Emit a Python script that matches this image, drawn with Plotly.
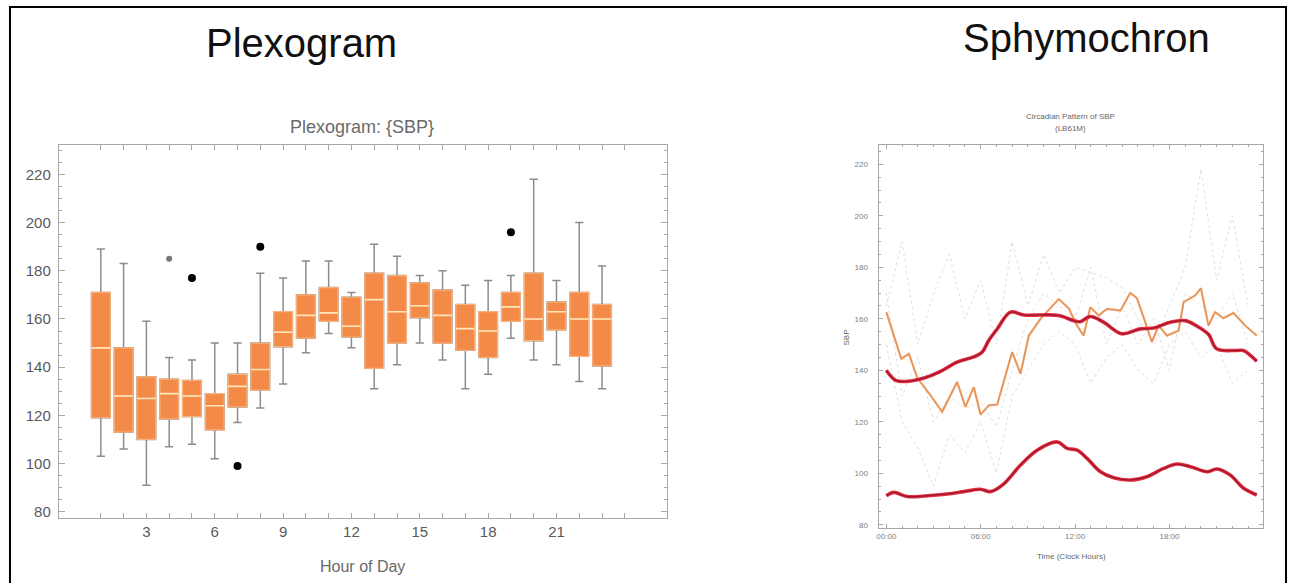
import plotly.graph_objects as go

# ---------------- Plexogram data (hourly SBP box statistics) ----------------
hours = list(range(1, 24))
upper_whisker = [189, 183, 159, 144, 143, 150, 150, 179, 177, 184, 184, 171, 191, 186, 178, 180, 174, 176, 178, 218, 176, 200, 182]
q3 = [171, 148, 136, 135, 134.5, 129, 137, 150, 163, 170, 173, 169, 179, 178, 175, 172, 166, 163, 171, 179, 167, 171, 166]
median = [148, 128, 127, 129, 128, 124, 132, 139, 154.5, 161.5, 162.5, 157, 168, 163, 165.5, 161.5, 156, 155, 165, 160, 163, 160, 160]
q1 = [119, 113, 110, 118.5, 119.5, 114, 123.5, 130.5, 148.5, 152, 159, 152.5, 139.5, 150, 160.5, 150, 147, 144, 159, 151, 155.5, 144.5, 140.5]
lower_whisker = [103, 106, 91, 107, 108, 102, 117, 123, 133, 146, 154, 148, 131, 141, 150, 143, 131, 137, 152, 143, 141, 134, 131]

outlier_hours = [5, 7, 8, 19]
outlier_values = [177, 99, 190, 196]
near_outlier_hours = [4]
near_outlier_values = [185]

x_tick_hours = list(range(1, 25))
x_tick_labels = [str(h) if (h % 3 == 0 and h <= 21) else "" for h in x_tick_hours]

# ---------------- Sphymochron data ----------------
upper_h = [0, 0.59, 1.33, 2.39, 3.45, 4.5, 5.56, 6.1, 6.5, 7.05, 7.89, 8.74, 9.8, 10.96, 11.91, 12.33, 12.97, 13.81, 14.97, 16.14, 16.99, 18.05, 19.0, 19.74, 20.48, 21.0, 22.28, 22.7, 23.55]
upper_v = [140, 136.1, 135.7, 137, 139.6, 143.2, 145.2, 147.1, 151.5, 156.1, 162.6, 161.5, 161.5, 161.3, 159.3, 158.9, 160.9, 158.7, 154.2, 156.1, 156.4, 158.7, 159.3, 157.2, 154, 148.4, 147.7, 147.7, 143.5]

lower_h = [0, 0.48, 1.33, 2.6, 3.87, 4.93, 5.99, 6.62, 7.47, 8.53, 9.59, 10.86, 11.49, 12.13, 12.76, 13.61, 14.45, 15.51, 16.57, 17.63, 18.48, 19.33, 20.39, 21.02, 21.87, 22.72, 23.55]
lower_v = [91.3, 92.6, 91, 91.3, 92, 92.9, 93.8, 92.9, 95.9, 103.2, 109, 112.2, 109.7, 109, 105.8, 100.6, 98.3, 97.4, 98.7, 101.9, 103.6, 102.6, 100.6, 101.7, 99.3, 94.2, 91.6]

mean_h = [0, 0.49, 0.95, 1.44, 1.97, 2.81, 3.55, 4.5, 5.03, 5.56, 5.99, 6.52, 7.05, 8.0, 8.53, 9.06, 9.8, 10.96, 11.6, 12.12, 12.54, 12.97, 13.5, 14.03, 14.88, 15.51, 15.93, 16.46, 16.88, 17.31, 17.84, 18.58, 18.9, 19.64, 20.0, 20.48, 20.9, 21.43, 22.07, 22.81, 23.55]
mean_v = [162.6, 153.5, 144.5, 146.4, 137, 130.3, 123.9, 135.5, 125.8, 133.5, 122.8, 126.4, 126.7, 147.1, 138.7, 153.5, 160, 167.7, 164, 157.4, 153.5, 164.5, 161.3, 163.9, 163.2, 170.1, 168, 158.7, 151, 157.4, 153.5, 155.4, 166.5, 169.1, 171.9, 157.4, 162.6, 160.2, 162.3, 157.4, 153.5]

day_h = list(range(0, 24))
day_a = [165, 190, 150, 170, 185, 160, 175, 150, 190, 165, 185, 170, 180, 178, 176, 172, 160, 150, 165, 180, 218, 175, 200, 165]
day_b = [150, 120, 110, 95, 115, 108, 120, 100, 130, 140, 150, 155, 150, 135, 145, 150, 140, 135, 150, 155, 145, 150, 135, 140]
day_c = [170, 130, 145, 120, 130, 125, 128, 118, 140, 160, 170, 165, 160, 180, 150, 165, 150, 160, 140, 170, 165, 160, 170, 150]

time_tick_vals = [0, 6, 12, 18]
time_tick_text = ["00:00", "06:00", "12:00", "18:00"]

FONT = "Liberation Sans, Arial, Helvetica, sans-serif"
BOX_FILL = "#F38A48"
BOX_EDGE = "#F9B27C"
WHISK = "#8C8C8C"
FRAME = "#A8A8A8"

fig = go.Figure()

# whiskers (gray) drawn from a box trace
fig.add_trace(go.Box(
    x=hours, q1=q1, median=median, q3=q3,
    lowerfence=lower_whisker, upperfence=upper_whisker,
    width=0.82, whiskerwidth=0.44, boxpoints=False,
    line=dict(color=WHISK, width=1.5), fillcolor=BOX_FILL,
    xaxis="x", yaxis="y", showlegend=False, hoverinfo="skip"))
# orange boxes on top
fig.add_trace(go.Box(
    x=hours, q1=q1, median=median, q3=q3,
    lowerfence=q1, upperfence=q3,
    width=0.82, whiskerwidth=0, boxpoints=False,
    line=dict(color=BOX_EDGE, width=1.2), fillcolor=BOX_FILL,
    xaxis="x", yaxis="y", showlegend=False, hoverinfo="skip"))
# pale median lines
fig.add_trace(go.Box(
    x=hours, q1=median, median=median, q3=median,
    lowerfence=median, upperfence=median,
    width=0.82, whiskerwidth=0, boxpoints=False,
    line=dict(color="#FFE6B8", width=1.6), fillcolor="rgba(0,0,0,0)",
    xaxis="x", yaxis="y", showlegend=False, hoverinfo="skip"))
fig.add_trace(go.Scatter(
    x=outlier_hours, y=outlier_values, mode="markers",
    marker=dict(color="black", size=8), xaxis="x", yaxis="y", showlegend=False))
fig.add_trace(go.Scatter(
    x=near_outlier_hours, y=near_outlier_values, mode="markers",
    marker=dict(color="#777777", size=6), xaxis="x", yaxis="y", showlegend=False))

# Sphymochron
for dv in (day_a, day_b, day_c):
    fig.add_trace(go.Scatter(x=day_h, y=dv, mode="lines",
                             line=dict(color="#DEDEDE", width=1, dash="dot"),
                             xaxis="x2", yaxis="y2", showlegend=False))
fig.add_trace(go.Scatter(x=mean_h, y=mean_v, mode="lines",
                         line=dict(color="#F2A46A", width=2.2),
                         xaxis="x2", yaxis="y2", showlegend=False))
fig.add_trace(go.Scatter(x=mean_h, y=mean_v, mode="lines",
                         line=dict(color="#D98A55", width=0.7),
                         xaxis="x2", yaxis="y2", showlegend=False))
for hh, vv in ((upper_h, upper_v), (lower_h, lower_v)):
    fig.add_trace(go.Scatter(x=hh, y=vv, mode="lines",
                             line=dict(color="#E3303F", width=3.6, shape="spline"),
                             xaxis="x2", yaxis="y2", showlegend=False))
    fig.add_trace(go.Scatter(x=hh, y=vv, mode="lines",
                             line=dict(color="#A0152F", width=1.3, shape="spline"),
                             xaxis="x2", yaxis="y2", showlegend=False))

W, H = 1290, 583
def px(x): return x / W
def py(y): return 1 - y / H

axis_common = dict(showline=True, linecolor=FRAME, linewidth=1.2, mirror="ticks",
                   ticks="inside", tickcolor=FRAME, showgrid=False, zeroline=False)

fig.update_layout(
    width=W, height=H, margin=dict(l=0, r=0, t=0, b=0),
    paper_bgcolor="white", plot_bgcolor="white", boxmode="overlay",
    font=dict(family=FONT),
    xaxis=dict(domain=[px(57), px(666)], range=[-0.84, 25.85], anchor="y",
               tickmode="array", tickvals=x_tick_hours, ticktext=x_tick_labels,
               ticklen=5, tickfont=dict(size=15, color="#5A5A5A"), **axis_common),
    yaxis=dict(domain=[py(520), py(145)], range=[77.3, 232.4], anchor="x",
               tickmode="linear", tick0=80, dtick=20, ticklen=6,
               tickfont=dict(size=15, color="#5A5A5A"), ticklabelstandoff=4,
               minor=dict(ticks="inside", dtick=5, tick0=80, ticklen=3, tickcolor=FRAME),
               **axis_common),
    xaxis2=dict(domain=[px(878), px(1263)], range=[-0.49, 23.95], anchor="y2",
                tickmode="array", tickvals=time_tick_vals, ticktext=time_tick_text,
                ticklen=4, tickfont=dict(size=8, color="#808080"),
                minor=dict(ticks="inside", dtick=1, tick0=0, ticklen=2, tickcolor=FRAME),
                **axis_common),
    yaxis2=dict(domain=[py(530), py(145)], range=[78.7, 227.7], anchor="x2",
                tickmode="linear", tick0=80, dtick=20, ticklen=4,
                tickfont=dict(size=8, color="#808080"), ticklabelstandoff=8,
                minor=dict(ticks="inside", dtick=5, tick0=80, ticklen=2, tickcolor=FRAME),
                **axis_common),
)

annotations = [
    dict(text="Plexogram", x=px(300), y=py(43), font=dict(size=40, color="#111111")),
    dict(text="Sphymochron", x=px(1086), y=py(38), font=dict(size=40, color="#111111")),
    dict(text="Plexogram: {SBP}", x=px(361), y=py(127), font=dict(size=18, color="#6A6A6A")),
    dict(text="Hour of Day", x=px(361), y=py(568), font=dict(size=16, color="#6A6A6A")),
    dict(text="Circadian Pattern of SBP", x=px(1070), y=py(117), font=dict(size=8, color="#666666")),
    dict(text="(LB61M)", x=px(1070), y=py(129), font=dict(size=8, color="#666666")),
    dict(text="Time (Clock Hours)", x=px(1071), y=py(558), font=dict(size=8, color="#666666")),
    dict(text="SBP", x=px(846), y=py(339), textangle=-90, font=dict(size=8, color="#666666")),
]
for a in annotations:
    a.update(xref="paper", yref="paper", showarrow=False, xanchor="center", yanchor="middle")
fig.update_layout(annotations=annotations)

# outer border of the composite figure
fig.add_shape(type="rect", xref="paper", yref="paper",
              x0=px(8), x1=px(1286), y0=-0.02, y1=py(7),
              line=dict(color="black", width=2), fillcolor="rgba(0,0,0,0)", layer="above")

fig.write_html("out.html")
